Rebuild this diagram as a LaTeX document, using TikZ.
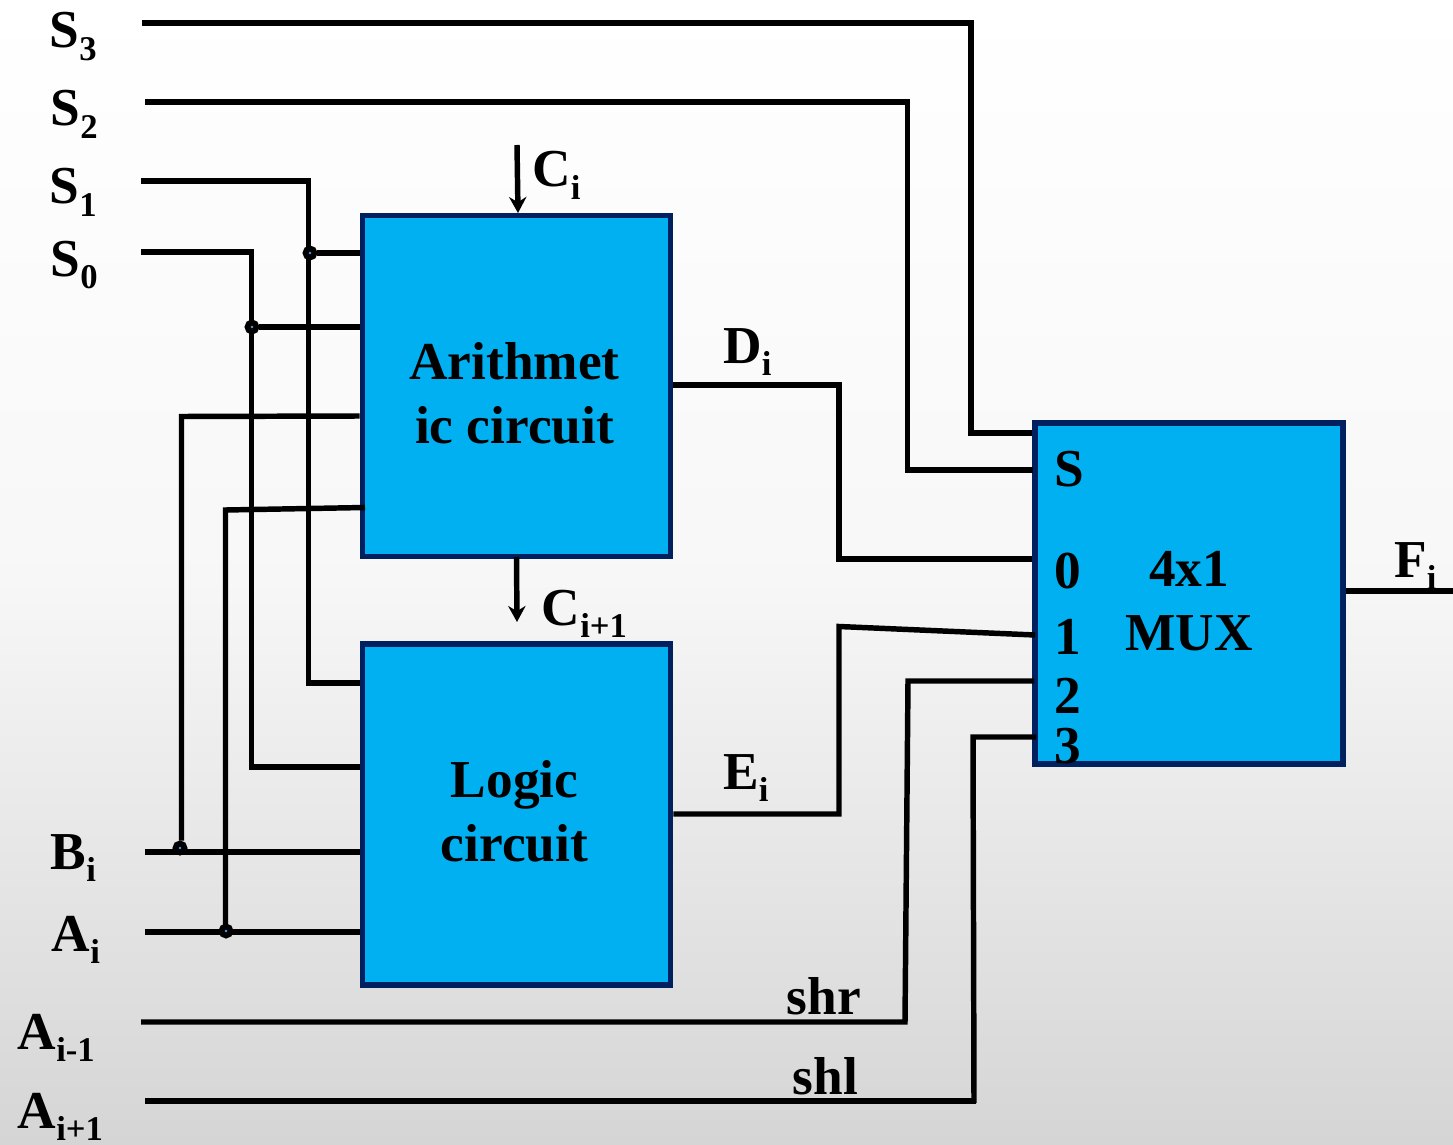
\documentclass[tikz,border=0pt]{standalone}
\usepackage{fontspec}
\setmainfont{Liberation Serif}
\usetikzlibrary{arrows.meta}
\definecolor{boxfill}{HTML}{00B0F0}
\definecolor{boxline}{HTML}{002060}
\definecolor{dotblue}{HTML}{4A90D9}
\pgfdeclarelayer{wires}
\pgfdeclarelayer{front}
\pgfsetlayers{main,wires,front}
\newcommand\sbs[1]{\raisebox{-0.24em}{\fontsize{26}{26}\selectfont #1}}
\tikzset{
  block/.style={draw=boxline,fill=boxfill,line width=4.4pt,minimum width=231pt,minimum height=255.75pt,inner sep=0pt,anchor=center},
  wire/.style={draw=black,line width=4.1pt,line cap=butt,line join=miter},
  arrowwire/.style={wire,-{Stealth[length=12pt,width=13pt]}},
  lbl/.style={anchor=base west,inner sep=0pt,font=\bfseries\fontsize{40}{48}\selectfont},
  blocktext/.style={anchor=center,inner sep=0pt,align=center,font=\bfseries\fontsize{40}{48}\selectfont},
  junction/.style={circle,draw=black,fill=dotblue,line width=4.3pt,minimum size=6.75pt,inner sep=0pt},
}
\begin{document}
\begin{tikzpicture}[x=0.75pt,y=-0.75pt]
\useasboundingbox (0,0) rectangle (1453,1145);
\shade[top color=white,bottom color=white!83.5!black,middle color=white!97!black,shading angle=0] (0,0) rectangle (1453,1145);
% blocks
\node[block] (arith) at (516.5,386) {};
\node[block] (logic) at (516.5,814.5) {};
\node[block] (mux) at (1189,593.5) {};
% free ends
\coordinate (s3) at (142,23);
\coordinate (s2) at (145,102);
\coordinate (s1) at (141,181);
\coordinate (s0) at (141,252);
\coordinate (bi) at (145,852);
\coordinate (ai) at (145,932);
\coordinate (am) at (141,1022);
\coordinate (ap) at (145,1101);
\coordinate (ci) at (517,145);
\coordinate (cin) at (518,213);
\coordinate (cout) at (517,622);
\coordinate (fi) at (1453,591);
% junctions
\begin{pgfonlayer}{front}
\node[junction] (j1) at (310,253) {};
\node[junction] (j0) at (252,327) {};
\node[junction] (jb) at (180,848) {};
\node[junction] (ja) at (226,931) {};
\end{pgfonlayer}
\begin{pgfonlayer}{wires}
% selection wires
\draw[wire] (s3) -- (971,23) -- (971,433) -- (mux.west |- 0,433);
\draw[wire] (s2) -- (907.5,102) -- (907.5,470) -- (1033,470);
\draw[wire] (s1) -- (308.5,181) -- (308.5,683) -- (logic.west |- 0,683);
\draw[wire] (s0) -- (251.5,252) -- (251.5,767) -- (logic.west |- 0,767);
\draw[wire] (j1) -- (arith.west |- j1);
\draw[wire] (j0) -- (arith.west |- j0);
% data wires
\draw[wire] (bi) -- (logic.west |- bi);
\draw[wire] (ai) -- (logic.west |- ai);
\draw[wire] (jb.north) ++(1.5,0) -- (181.5,416.5) -- (arith.west |- 0,416);
\draw[wire] (ja) ++(-0.5,0) -- (225.5,510) -- (365,507.5);
% carry
\draw[arrowwire] (ci) -- (cin);
\draw[arrowwire] (arith.south |- 0,557) -- (cout);
% outputs
\draw[wire] (arith.east |- 0,385) -- (839,385) -- (839,559) -- (1032,559);
\draw[wire] (logic.east |- 0,814) -- (839,814) -- (839,626.5) -- (1035,635);
\draw[wire] (am) -- (905,1022) -- (908,681) -- (1034,681);
\draw[wire] (ap) -- (975.5,1101);
\draw[wire] (974,1103) -- (973,737) -- (1036,737);
\draw[wire] (mux.east |- fi) -- (fi);
\end{pgfonlayer}
\begin{pgfonlayer}{front}
% left labels
\node[lbl] (ls3) at (49.5,48) {S\sbs{3}};
\node[lbl] (ls2) at (50.5,126) {S\sbs{2}};
\node[lbl] (ls1) at (49.5,204) {S\sbs{1}};
\node[lbl] (ls0) at (50.5,276) {S\sbs{0}};
\node[lbl] (lbi) at (50.5,869) {B\sbs{i}};
\node[lbl] (lai) at (51.5,951) {A\sbs{i}};
\node[lbl] (lam) at (17.5,1049) {A\sbs{i-1}};
\node[lbl] (lap) at (17.5,1128) {A\sbs{i+1}};
% signal labels
\node[lbl] (lci) at (532,187) {C\sbs{i}};
\node[lbl] (lco) at (541.5,625) {C\sbs{i+1}};
\node[lbl] (ldi) at (723,363) {D\sbs{i}};
\node[lbl] (lei) at (723,789) {E\sbs{i}};
\node[lbl] (lfi) at (1394,577) {F\sbs{i}};
\node[lbl] (lshr) at (786.5,1014) {shr};
\node[lbl] (lshl) at (792.5,1094) {shl};
% block text
\node[blocktext] (tarith) at (514.5,393) {Arithmet\\ic circuit};
\node[blocktext] (tlogic) at (514.5,811.5) {Logic\\circuit};
\node[blocktext] (tmux) at (1189,601.5) {4x1\\MUX};
% mux ports
\node[lbl] (ps) at (1054.5,486) {S};
\node[lbl] (p0) at (1054.5,588) {0};
\node[lbl] (p1) at (1054.5,654) {1};
\node[lbl] (p2) at (1054.5,713) {2};
\node[lbl] (p3) at (1054.5,763) {3};
\end{pgfonlayer}
\end{tikzpicture}
\end{document}
